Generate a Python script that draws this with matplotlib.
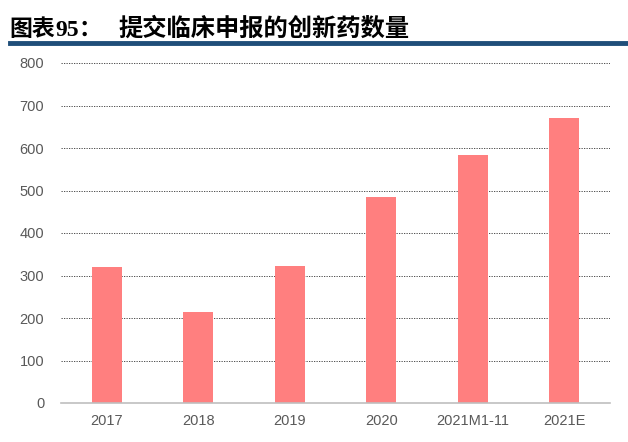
import matplotlib.pyplot as plt
from matplotlib.lines import Line2D

plt.rcParams['font.family'] = ['Noto Sans CJK SC', 'DejaVu Sans']

categories = ['2017', '2018', '2019', '2020', '2021M1-11', '2021E']
values = [320, 214, 322, 485, 584, 671]
yticks = [0, 100, 200, 300, 400, 500, 600, 700, 800]

W, H = 628, 442
fig = plt.figure(figsize=(W / 100, H / 100), dpi=100)
ax = fig.add_axes([61 / W, 1 - 403 / H, (610 - 61) / W, (403 - 63) / H])

x = range(len(categories))
ax.bar(x, values, width=0.33, color='#FF7F7F', zorder=3)

ax.set_xlim(-0.5, len(categories) - 0.5)
ax.set_ylim(0, 800)
ax.set_yticks(yticks)
ax.set_xticks(list(x))
ax.set_xticklabels(categories, fontfamily='Liberation Sans')
ax.set_yticklabels([str(v) for v in yticks], fontfamily='Liberation Sans')
ax.tick_params(axis='both', length=0, labelsize=10.5, colors='#595959', pad=8)
ax.tick_params(axis='y', pad=12)
ax.grid(axis='y', color='#333333', linestyle=(0, (1.5, 1.5)), linewidth=0.6, zorder=0)
for s in ['top', 'right', 'left']:
    ax.spines[s].set_visible(False)
ax.spines['bottom'].set_color('#BFBFBF')
ax.spines['bottom'].set_linewidth(1.2)
ax.spines['bottom'].set_zorder(4)

# title
ty = 1 - 36 / H
fig.text(9 / W, ty, '图表', fontsize=16.5, fontweight='bold', color='black')
fig.text(55 / W, ty, '95', fontsize=17, fontweight='bold', color='black',
         fontfamily='Liberation Serif')
fig.text(78 / W, ty, '：', fontsize=16.5, fontweight='bold', color='black')
fig.text(118 / W, ty, '提交临床申报的创新药数量', fontsize=17.5, fontweight='bold',
         color='black')
fig.add_artist(Line2D([10 / W, 1.0], [1 - 43 / H, 1 - 43 / H], color='#1F4E79',
                      linewidth=3.5, transform=fig.transFigure))

fig.savefig('out.png', dpi=100)
